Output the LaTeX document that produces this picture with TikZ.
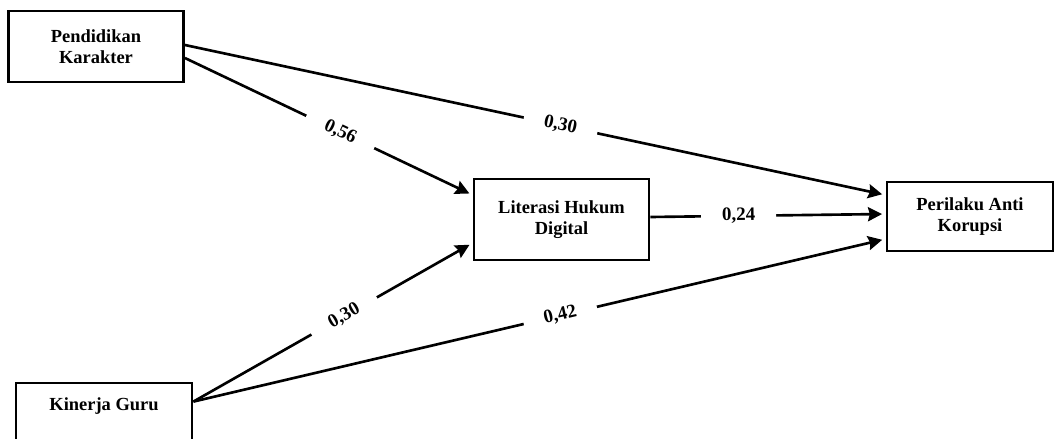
\documentclass[tikz,border=0pt]{standalone}
\usepackage{fontspec}
\setmainfont{Liberation Serif}
\usepackage{tikz}
\usetikzlibrary{arrows.meta}
\tikzstyle{var} = [rectangle, minimum width = 3.5cm, minimum height = 1.42cm, text centered, align = center, draw = black, line width = 1.6pt, font = \bfseries\fontsize{10.5}{12.3}\selectfont]
\tikzstyle{coef} = [fill = white, sloped, minimum width = 1.5cm, inner ysep = 1pt, font = \bfseries\fontsize{10.8}{12.3}\selectfont]
\tikzstyle{arrow} = [line width = 1.5pt, -{Stealth[length = 8pt, width = 8pt, inset = 1pt]}, shorten > = 2pt]

\begin{document}
\begin{tikzpicture}[node distance = 2cm]
    \useasboundingbox (0,0) rectangle (21.08,-8.78);
    \node(pk)[var] at (1.92,-0.93){Pendidikan\\Karakter};
    \node(lhd)[var, right of = pk, xshift = 7.31cm, yshift = -3.46cm, minimum height = 1.62cm]{Literasi Hukum\\Digital};
    \node(pak)[var, right of = lhd, xshift = 6.17cm, yshift = 0.06cm, minimum width = 3.32cm, minimum height = 1.38cm]{Perilaku Anti\\Korupsi};
    \node(kg)[var, below of = pk, xshift = 0.16cm, yshift = -5.44cm, minimum width = 3.52cm]{Kinerja Guru\\\strut};

    \draw[arrow]([yshift = 0.03cm]pk.east)--([yshift = 0.43cm]pak.west) node[coef, pos = 0.536]{0,30};
    \draw[arrow]([yshift = -0.23cm]pk.east)--([yshift = 0.49cm]lhd.west) node[coef, pos = 0.54]{0,56};
    \draw[arrow]([yshift = 0.05cm]lhd.east)--([yshift = 0.05cm]pak.west) node[coef, pos = 0.375]{0,24};
    \draw[arrow]([yshift = -0.4cm]kg.north east)--([yshift = -0.47cm]lhd.west) node[coef, pos = 0.54]{0,30};
    \draw[arrow]([yshift = -0.4cm]kg.north east)--([yshift = -0.45cm]pak.west) node[coef, pos = 0.53]{0,42};
\end{tikzpicture}
\end{document}
